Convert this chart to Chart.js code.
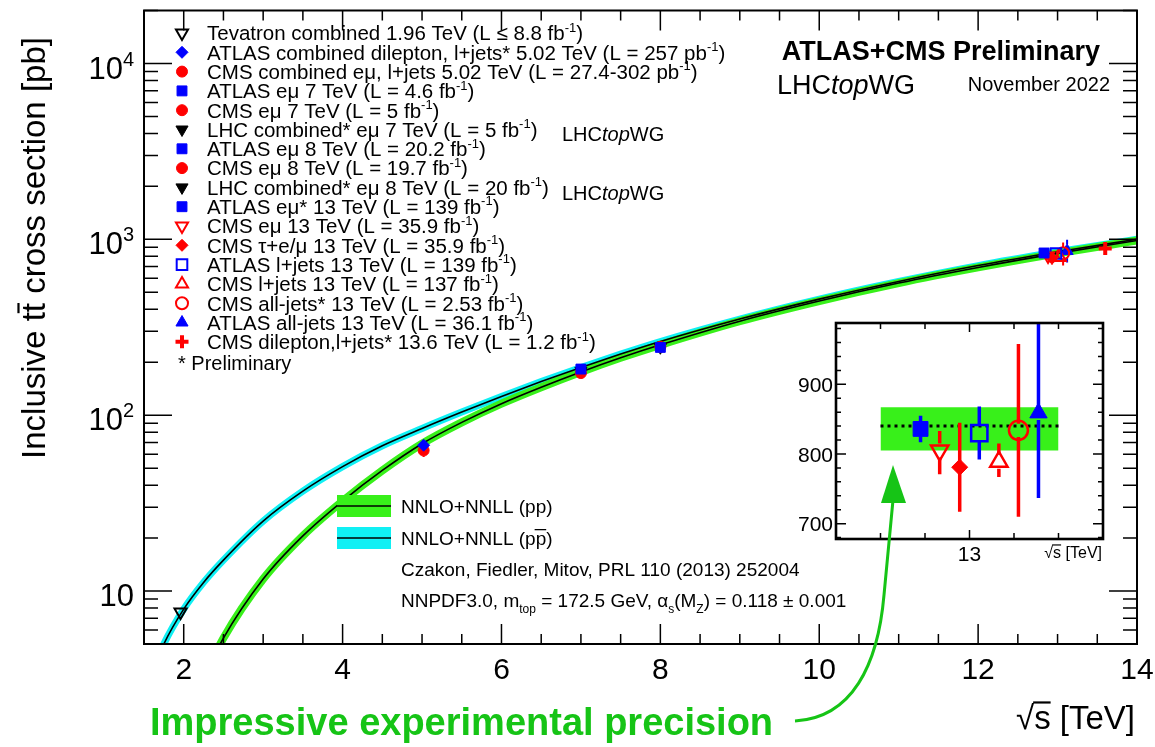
<!DOCTYPE html>
<html>
<head>
<meta charset="utf-8">
<script src="https://cdn.jsdelivr.net/npm/chart.js@4.4.0/dist/chart.umd.min.js"></script>
<style>
  html, body { margin: 0; padding: 0; background: #fff; }
  #wrap { position: relative; width: 1155px; height: 747px; }
  #wrap canvas { position: absolute; left: 0; top: 0; }
</style>
</head>
<body>
<div id="wrap">
  <canvas id="main" width="1155" height="747"></canvas>
  <canvas id="inset" width="1155" height="747"></canvas>
</div>
<script>
const measLabels = [
  "Tevatron combined 1.96 TeV (L ≤ 8.8 fb^{-1})",
  "ATLAS combined dilepton, l+jets* 5.02 TeV (L = 257 pb^{-1})",
  "CMS combined eμ, l+jets 5.02 TeV (L = 27.4-302 pb^{-1})",
  "ATLAS eμ 7 TeV (L = 4.6 fb^{-1})",
  "CMS eμ 7 TeV (L = 5 fb^{-1})",
  "LHC combined* eμ 7 TeV (L = 5 fb^{-1})",
  "ATLAS eμ 8 TeV (L = 20.2 fb^{-1})",
  "CMS eμ 8 TeV (L = 19.7 fb^{-1})",
  "LHC combined* eμ 8 TeV (L = 20 fb^{-1})",
  "ATLAS eμ* 13 TeV (L = 139 fb^{-1})",
  "CMS eμ 13 TeV (L = 35.9 fb^{-1})",
  "CMS τ+e/μ 13 TeV (L = 35.9 fb^{-1})",
  "ATLAS l+jets 13 TeV (L = 139 fb^{-1})",
  "CMS l+jets 13 TeV (L = 137 fb^{-1})",
  "CMS all-jets* 13 TeV (L = 2.53 fb^{-1})",
  "ATLAS all-jets 13 TeV (L = 36.1 fb^{-1})",
  "CMS dilepton,l+jets* 13.6 TeV (L = 1.2 fb^{-1})"
];
const measEnergy = [1.96, 5.02, 5.02, 7, 7, 7, 8, 8, 8, 12.83, 12.88, 12.93, 12.98, 13.03, 13.07, 13.12, 13.6];
const measXsec   = [7.6, 67.5, 63.0, 182.9, 173.6, 178.5, 242.9, 244.9, 243.3, 836, 805, 781, 830, 789, 834, 859, 887];
const measErrUp  = [0.4, 2.7, 5.1, 7.1, 7.0, 4.7, 7.6, 8.0, 6.0, 19, 28, 64, 38, 26, 124, 135, 50];
const measErrDn  = [0.4, 2.7, 5.1, 7.1, 7.0, 4.7, 7.6, 8.0, 6.0, 19, 34, 64, 38, 22, 124, 122, 50];

// ---- NNLO+NNLL predictions ----
const theoryEnergy = [1.5, 1.75, 2, 2.25, 2.5, 3, 3.5, 4, 4.5, 5, 5.5, 6, 6.5, 7, 7.5, 8, 9, 10, 11, 12, 13, 14];
const ppXsec    = [0.6, 1.2, 2.0, 3.2, 5.4, 11.7, 20.6, 32.5, 48.5, 68.8, 91.0, 116.3, 144.2, 176.1, 211.9, 251.2, 342.5, 446, 564, 692, 832, 984];
const ppbarXsec = [2.6, 5.0, 7.9, 11.2, 15.0, 25.0, 37.0, 51.0, 67.0, 84.0, 104.1, 127.8, 155.3, 186.8, 222.5, 262.4, 352, 457, 576, 709, 849, 1001];

// ---- 13 TeV zoom ----
const insetOrder  = [9, 10, 11, 12, 13, 14, 15];           // which measurements are shown in the zoom
const insetEnergy = [12.89, 12.933, 12.978, 13.022, 13.066, 13.11, 13.155];
const bandEnergy  = [12.8, 13.2];
const bandHigh = 867, bandLow = 805, bandCentral = 840;

// ---- axes ----
const xTickLabels = [2, 4, 6, 8, 10, 12, 14];
const yDecades = [10, 100, 1000, 10000];
const insetYLabels = [700, 800, 900];

const FONT = '"Liberation Sans", Arial, Helvetica, sans-serif';
const RED = "#ff0000", BLUE = "#0000ff", BLACK = "#000000";
const GREEN_BAND = "#38f01a", CYAN_BAND = "#10f0f4", ARROW_GREEN = "#16c416";

const measStyle = [
  { shape: "triangle", rot: 180, color: BLACK, open: true, r: 7, ir: 9 },
  { shape: "rectRot", color: BLUE, r: 6, ir: 8 },
  { shape: "circle", color: RED, r: 5.5, ir: 9 },
  { shape: "rect", color: BLUE, r: 7, ir: 10 },
  { shape: "circle", color: RED, r: 5.5, ir: 9 },
  { shape: "triangle", rot: 180, color: BLACK, r: 7, ir: 9 },
  { shape: "rect", color: BLUE, r: 7, ir: 10 },
  { shape: "circle", color: RED, r: 5.5, ir: 9 },
  { shape: "triangle", rot: 180, color: BLACK, r: 7, ir: 9 },
  { shape: "rect", color: BLUE, r: 7, ir: 10.5 },
  { shape: "triangle", rot: 180, color: RED, open: true, r: 7, ir: 10 },
  { shape: "rectRot", color: RED, r: 6, ir: 8 },
  { shape: "rect", color: BLUE, open: true, r: 7.5, ir: 11.5 },
  { shape: "triangle", color: RED, open: true, r: 7, ir: 10 },
  { shape: "circle", color: RED, open: true, r: 6, ir: 9.5 },
  { shape: "triangle", color: BLUE, r: 7, ir: 10 },
  { shape: "cross", color: RED, r: 6.5, ir: 8 }
];

// tiny "rich text": ^{sup} _{sub} !{overline} /{italic}
function parseRich(str) {
  const segs = [];
  let buf = "", i = 0;
  while (i < str.length) {
    const c = str[i];
    if ("^_!/".includes(c) && str[i + 1] === "{") {
      if (buf) { segs.push({ text: buf, mode: "n" }); buf = ""; }
      const end = str.indexOf("}", i + 2);
      segs.push({ text: str.slice(i + 2, end), mode: c });
      i = end + 1;
    } else { buf += c; i++; }
  }
  if (buf) segs.push({ text: buf, mode: "n" });
  return segs;
}
function segFont(mode, size, weight) {
  if (mode === "^" || mode === "_") return `${weight} ${Math.round(size * 0.64)}px ${FONT}`;
  if (mode === "/") return `italic ${weight} ${size}px ${FONT}`;
  return `${weight} ${size}px ${FONT}`;
}
function richWidth(ctx, str, size, weight) {
  let w = 0;
  parseRich(str).forEach((s) => { ctx.font = segFont(s.mode, size, weight); w += ctx.measureText(s.text).width; });
  return w;
}
function drawRich(ctx, str, x, y, size, o = {}) {
  const weight = o.weight || "normal";
  const align = o.align || "left";
  ctx.save();
  ctx.fillStyle = ctx.strokeStyle = o.color || BLACK;
  ctx.textAlign = "left";
  ctx.textBaseline = "alphabetic";
  const w = richWidth(ctx, str, size, weight);
  let cx = align === "right" ? x - w : align === "center" ? x - w / 2 : x;
  const base = y + 0.36 * size;
  parseRich(str).forEach((s) => {
    ctx.font = segFont(s.mode, size, weight);
    const dy = s.mode === "^" ? -0.42 * size : s.mode === "_" ? 0.3 * size : 0;
    ctx.fillText(s.text, cx, base + dy);
    const sw = ctx.measureText(s.text).width;
    if (s.mode === "!") {
      ctx.lineWidth = Math.max(1.2, size / 15);
      ctx.beginPath();
      ctx.moveTo(cx - 1, base - 0.8 * size);
      ctx.lineTo(cx + sw, base - 0.8 * size);
      ctx.stroke();
    }
    cx += sw;
  });
  ctx.restore();
  return w;
}

function markerOpts(st, r) {
  return { pointStyle: st.shape, radius: r, rotation: st.rot || 0, borderWidth: st.open ? 2 : (st.shape === "cross" ? 4 : 1) };
}

// ---------------- main chart ----------------
const mainPlugin = {
  id: "mainPlugin",
  beforeDatasetDraw(chart, args) {
    const ds = chart.data.datasets[args.index];
    if (ds.measIndex === undefined) return;
    const i = ds.measIndex, st = measStyle[i];
    const { ctx, scales: { x, y } } = chart;
    const px = x.getPixelForValue(measEnergy[i]);
    const py = y.getPixelForValue(measXsec[i]);
    const yt = y.getPixelForValue(measXsec[i] + measErrUp[i]);
    const yb = y.getPixelForValue(measXsec[i] - measErrDn[i]);
    ctx.save();
    ctx.strokeStyle = st.color;
    ctx.lineWidth = 2;
    ctx.beginPath();
    if (yt < py - st.r) { ctx.moveTo(px, yt); ctx.lineTo(px, py - st.r); }
    if (yb > py + st.r) { ctx.moveTo(px, py + st.r); ctx.lineTo(px, yb); }
    ctx.stroke();
    ctx.restore();
  },
  afterDatasetsDraw(chart) {
    const { ctx, chartArea: a, scales: { x, y } } = chart;
    ctx.save();
    ctx.strokeStyle = BLACK;
    // x ticks, bottom and top, pointing inward
    ctx.lineWidth = 1.5;
    ctx.beginPath();
    for (let v = 1.5; v <= 14.001; v += 0.5) {
      const px = x.getPixelForValue(v);
      const len = Math.abs(v % 2) < 1e-6 ? 20 : 10;
      ctx.moveTo(px, a.bottom); ctx.lineTo(px, a.bottom - len);
      ctx.moveTo(px, a.top); ctx.lineTo(px, a.top + len);
    }
    // y ticks, left and right
    const lo = y.min, hi = y.max;
    for (let d = 1; d <= 10000; d *= 10) {
      for (let m = 1; m <= 9; m++) {
        const v = m * d;
        if (v < lo || v > hi) continue;
        const py = y.getPixelForValue(v);
        const len = m === 1 ? 28 : 14;
        ctx.moveTo(a.left, py); ctx.lineTo(a.left + len, py);
        ctx.moveTo(a.right, py); ctx.lineTo(a.right - len, py);
      }
    }
    ctx.stroke();
    ctx.lineWidth = 2;
    ctx.strokeRect(a.left, a.top, a.right - a.left, a.bottom - a.top);

    // tick labels
    xTickLabels.forEach((v) => drawRich(ctx, String(v), x.getPixelForValue(v), 668, 30, { align: "center" }));
    yDecades.forEach((v) => {
      const p = Math.round(Math.log10(v));
      const txt = p === 1 ? "10" : "10^{" + p + "}";
      drawRich(ctx, txt, 134, y.getPixelForValue(v) + 4, 31, { align: "right" });
    });

    // axis titles
    drawRich(ctx, "√!{s} [TeV]", 1135, 717, 33, { align: "right" });
    ctx.save();
    ctx.translate(33, 248);
    ctx.rotate(-Math.PI / 2);
    drawRich(ctx, "Inclusive t!{t} cross section [pb]", 0, 0, 33, { align: "center" });
    ctx.restore();

    // legend of measurements
    measLabels.forEach((lab, i) => {
      const st = measStyle[i];
      const ly = 33 + i * 19.3;
      ctx.save();
      ctx.fillStyle = st.open ? "rgba(0,0,0,0)" : st.color;
      ctx.strokeStyle = st.color;
      ctx.lineWidth = markerOpts(st, st.r).borderWidth;
      Chart.helpers.drawPoint(ctx, markerOpts(st, st.r), 182, ly);
      ctx.restore();
      drawRich(ctx, lab, 207, ly, 20.5);
    });
    drawRich(ctx, "* Preliminary", 178, 363, 20);
    drawRich(ctx, "LHC/{top}WG", 562, 134, 20);
    drawRich(ctx, "LHC/{top}WG", 562, 193, 20);

    // header
    drawRich(ctx, "ATLAS+CMS Preliminary", 1100, 50, 27, { align: "right", weight: "bold" });
    drawRich(ctx, "LHC/{top}WG", 777, 84, 27);
    drawRich(ctx, "November 2022", 1110, 84, 20, { align: "right" });

    // theory legend
    [[GREEN_BAND, 506, "NNLO+NNLL (pp)"], [CYAN_BAND, 538, "NNLO+NNLL (p!{p})"]].forEach(([col, ly, txt]) => {
      ctx.fillStyle = col;
      ctx.fillRect(337, ly - 11, 54, 22);
      ctx.strokeStyle = BLACK;
      ctx.lineWidth = 1.6;
      ctx.beginPath(); ctx.moveTo(337, ly); ctx.lineTo(391, ly); ctx.stroke();
      drawRich(ctx, txt, 401, ly, 19);
    });
    drawRich(ctx, "Czakon, Fiedler, Mitov, PRL 110 (2013) 252004", 401, 569, 19);
    drawRich(ctx, "NNPDF3.0, m_{top} = 172.5 GeV, α_{s}(M_{Z}) = 0.118 ± 0.001", 401, 600, 19);
    ctx.restore();
  }
};

const mainDatasets = [
  { type: "line", label: "ppbar band", data: theoryEnergy.map((e, i) => ({ x: e, y: ppbarXsec[i] })),
    borderColor: CYAN_BAND, borderWidth: 7, order: 4 },
  { type: "line", label: "pp band", data: theoryEnergy.map((e, i) => ({ x: e, y: ppXsec[i] })),
    borderColor: GREEN_BAND, borderWidth: 8, order: 3 },
  { type: "line", label: "ppbar", data: theoryEnergy.map((e, i) => ({ x: e, y: ppbarXsec[i] })),
    borderColor: BLACK, borderWidth: 1.6, order: 2 },
  { type: "line", label: "pp", data: theoryEnergy.map((e, i) => ({ x: e, y: ppXsec[i] })),
    borderColor: BLACK, borderWidth: 1.6, order: 1 }
].map((d) => Object.assign(d, { pointRadius: 0, cubicInterpolationMode: "monotone", fill: false, clip: 0 }));

measLabels.forEach((lab, i) => {
  const st = measStyle[i];
  mainDatasets.push({
    type: "scatter", label: lab, measIndex: i, order: 0,
    data: [{ x: measEnergy[i], y: measXsec[i] }],
    pointStyle: st.shape, pointRadius: st.r, pointRotation: st.rot || 0,
    backgroundColor: st.open ? "rgba(0,0,0,0)" : st.color,
    borderColor: st.color, borderWidth: markerOpts(st, st.r).borderWidth
  });
});

new Chart(document.getElementById("main"), {
  type: "scatter",
  data: { datasets: mainDatasets },
  options: {
    responsive: false, animation: false, events: [],
    layout: { padding: { left: 144, right: 18, top: 4, bottom: 103 } },
    plugins: { legend: { display: false }, tooltip: { enabled: false } },
    scales: {
      x: { type: "linear", min: 1.5, max: 14, display: false },
      y: { type: "logarithmic", min: 5, max: 20000, display: false }
    }
  },
  plugins: [mainPlugin]
});

// ---------------- 13 TeV zoom ----------------
const insetPlugin = {
  id: "insetPlugin",
  beforeDatasetsDraw(chart) {
    const { ctx, chartArea: a } = chart;
    ctx.save();
    ctx.fillStyle = "#fff";
    ctx.fillRect(a.left, a.top, a.right - a.left, a.bottom - a.top);
    ctx.restore();
  },
  beforeDatasetDraw(chart, args) {
    const ds = chart.data.datasets[args.index];
    if (ds.insetIndex === undefined) return;
    const k = ds.insetIndex, i = insetOrder[k], st = measStyle[i];
    const { ctx, chartArea: a, scales: { x, y } } = chart;
    const px = x.getPixelForValue(insetEnergy[k]);
    const py = y.getPixelForValue(measXsec[i]);
    const yt = Math.max(a.top, y.getPixelForValue(measXsec[i] + measErrUp[i]));
    const yb = Math.min(a.bottom, y.getPixelForValue(measXsec[i] - measErrDn[i]));
    ctx.save();
    ctx.strokeStyle = st.color;
    ctx.lineWidth = 3.5;
    ctx.beginPath();
    ctx.moveTo(px, yt); ctx.lineTo(px, py - st.ir * 0.7);
    ctx.moveTo(px, py + st.ir * 0.7); ctx.lineTo(px, yb);
    ctx.stroke();
    ctx.restore();
  },
  afterDatasetsDraw(chart) {
    const { ctx, chartArea: a, scales: { x, y } } = chart;
    ctx.save();
    ctx.strokeStyle = BLACK;
    ctx.lineWidth = 1.5;
    ctx.beginPath();
    for (let v = 680; v <= 988; v += 20) {
      const py = y.getPixelForValue(v);
      const len = v % 100 === 0 ? 10 : 5;
      ctx.moveTo(a.left, py); ctx.lineTo(a.left + len, py);
      ctx.moveTo(a.right, py); ctx.lineTo(a.right - len, py);
    }
    for (let v = 12.8; v <= 13.21; v += 0.1) {
      const px = x.getPixelForValue(v);
      const len = Math.abs(v - 13) < 1e-6 ? 9 : 6;
      ctx.moveTo(px, a.bottom); ctx.lineTo(px, a.bottom - len);
      ctx.moveTo(px, a.top); ctx.lineTo(px, a.top + len);
    }
    ctx.stroke();
    ctx.lineWidth = 2.6;
    ctx.strokeRect(a.left, a.top, a.right - a.left, a.bottom - a.top);
    insetYLabels.forEach((v) => drawRich(ctx, String(v), a.left - 3, y.getPixelForValue(v), 21, { align: "right" }));
    drawRich(ctx, "13", x.getPixelForValue(13), 553, 21, { align: "center" });
    drawRich(ctx, "√!{s} [TeV]", a.right - 1, 552, 16, { align: "right" });
    ctx.restore();
  },
  afterDraw(chart) {
    const { ctx } = chart;
    ctx.save();
    drawRich(ctx, "Impressive experimental precision", 150, 721, 38, { weight: "bold", color: ARROW_GREEN });
    ctx.strokeStyle = ctx.fillStyle = ARROW_GREEN;
    ctx.lineWidth = 3;
    ctx.beginPath();
    ctx.moveTo(795, 721);
    ctx.bezierCurveTo(852, 718, 878, 665, 884, 595);
    ctx.lineTo(893, 500);
    ctx.stroke();
    ctx.beginPath();
    ctx.moveTo(893, 465);
    ctx.lineTo(881, 503);
    ctx.lineTo(906, 503);
    ctx.closePath();
    ctx.fill();
    ctx.restore();
  }
};

const insetDatasets = [
  { type: "line", data: bandEnergy.map((e) => ({ x: e, y: bandHigh })), borderWidth: 0,
    backgroundColor: GREEN_BAND, fill: "+1", order: 5 },
  { type: "line", data: bandEnergy.map((e) => ({ x: e, y: bandLow })), borderWidth: 0, fill: false, order: 5 },
  { type: "line", data: bandEnergy.map((e) => ({ x: e, y: bandCentral })), borderColor: BLACK,
    borderWidth: 3, borderDash: [3, 4], fill: false, order: 4 }
].map((d) => Object.assign(d, { pointRadius: 0 }));

insetOrder.forEach((i, k) => {
  const st = measStyle[i];
  insetDatasets.push({
    type: "scatter", insetIndex: k, order: 0,
    data: [{ x: insetEnergy[k], y: measXsec[i] }],
    pointStyle: st.shape, pointRadius: st.ir, pointRotation: st.rot || 0,
    backgroundColor: st.open ? "rgba(0,0,0,0)" : st.color,
    borderColor: st.color, borderWidth: st.open ? 2.5 : 1
  });
});

new Chart(document.getElementById("inset"), {
  type: "scatter",
  data: { datasets: insetDatasets },
  options: {
    responsive: false, animation: false, events: [],
    layout: { padding: { left: 836, right: 52, top: 323, bottom: 208 } },
    plugins: { legend: { display: false }, tooltip: { enabled: false } },
    scales: {
      x: { type: "linear", min: 12.7, max: 13.3, display: false },
      y: { type: "linear", min: 678, max: 988, display: false }
    }
  },
  plugins: [insetPlugin]
});
</script>
</body>
</html>
